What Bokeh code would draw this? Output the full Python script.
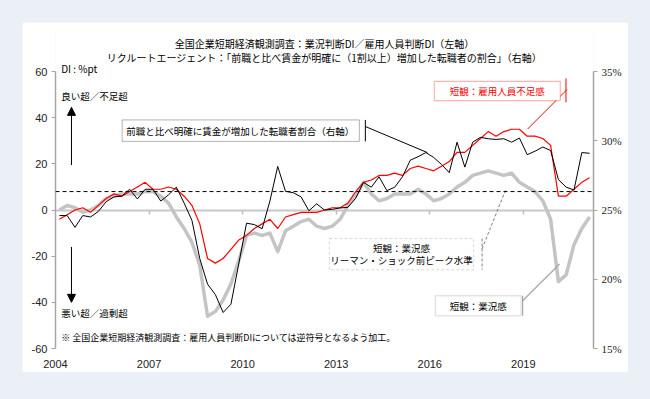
from bokeh.plotting import figure
from bokeh.models import (Range1d, LinearAxis, FixedTicker, Span, Label, Arrow, NormalHead,
                          BoxAnnotation, PrintfTickFormatter, ColumnDataSource)
from bokeh.embed import file_html
from bokeh.resources import INLINE

# ---------------- data (quarterly, first point = 2004 survey) ----------------
year_labels = ["2004", "2007", "2010", "2013", "2016", "2019"]

# Recruit Agent: share of job changers whose wage rose clearly (>=10%), % (right axis)
job_change_pct = [24.6, 24.6, 23.75, 24.6, 24.5, 24.9, 25.6, 25.95, 26.0, 26.5,
                  25.8, 26.5, 26.5, 25.65, 26.1, 26.65, 25.5, 24.25, 21.5, 19.65,
                  18.9, 17.6, 18.2, 21.1, 24.05, 23.95, 23.65, 25.65, 28.15, 26.35,
                  26.25, 25.95, 24.95, 25.45, 25.0, 25.05, 25.15, 25.2, 25.85, 27.0,
                  26.65, 27.4, 26.4, 26.65, 27.4, 28.6, 28.85, 29.15, 28.8, 28.3,
                  27.7, 29.9, 28.1, 29.9, 30.25, 30.15, 30.1, 30.15, 29.9, 30.2,
                  29.0, 29.25, 29.55, 29.3, 27.2, 26.65, 26.45, 29.15, 29.1]

# Tankan employment conditions DI (sign inverted: shortage = positive), %pt
employment_di = [-4, -2, 0, 1, -1, 2, 5, 7, 6, 8,
                 10, 12, 9, 9, 10, 9, 6, 2, -6, -21,
                 -23, -21, -17, -13, -11, -8, -6, -4, -8, -3,
                 -2, -1, -1, -1, 0, 1, 1, 3, 8, 12,
                 13, 15, 15, 16, 15, 18, 19, 18, 17, 19,
                 21, 25, 25, 28, 31, 34, 32, 34, 35, 35,
                 32, 32, 31, 28, 6, 6, 9, 12, 14]

# Tankan business conditions DI, %pt
business_di = [0, 2, 1, -1, 0, 2, 5, 6, 7, 7,
               7, 8, 8, 6, 3, -3, -8, -14, -24, -46,
               -44, -39, -32, -22, -11, -10, -11, -10, -18, -9,
               -7, -5, -4, -7, -8, -7, -4, 2, 6, 12,
               7, 4, 5, 7, 7, 7, 9, 7, 4, 5,
               7, 10, 12, 15, 16, 17, 16, 15, 16, 12,
               10, 8, 4, -4, -31, -28, -15, -8, -3]

lehman_peak_di = 8

left_ticks = [-60, -40, -20, 0, 20, 40, 60]
right_ticks = [15, 20, 25, 30, 35]

x = list(range(len(business_di)))
src = ColumnDataSource(dict(x=x, biz=business_di, emp=employment_di, job=job_change_pct))
year_ticks = [-0.5 + 12 * k for k in range(len(year_labels))]

JP = "Noto Sans CJK JP"

# frame extends above DI=60 to hold the titles; axes are bounded to the data scale
Y_TOP = 77.8
PCT_TOP = 25 + Y_TOP / 6.0

p = figure(width=606, height=350, output_backend="svg", toolbar_location=None,
           x_range=Range1d(-0.5, 68.5), y_range=Range1d(-60, Y_TOP),
           min_border_left=33, min_border_right=35, min_border_top=8, min_border_bottom=24,
           background_fill_color="white", border_fill_color="white",
           outline_line_color=None)
p.margin = (22, 0, 0, 22)
p.grid.visible = False
p.extra_y_ranges = {"pct": Range1d(15, PCT_TOP)}

# bottom axis: year labels only
xa = p.xaxis[0]
xa.ticker = FixedTicker(ticks=year_ticks)
xa.major_label_overrides = {t: lab for t, lab in zip(year_ticks, year_labels)}
xa.axis_line_color = None
xa.major_tick_line_color = None
xa.minor_tick_line_color = None
xa.major_label_standoff = 5
xa.major_label_text_font = "Liberation Sans"
xa.major_label_text_font_size = "11px"
xa.major_label_text_color = "#222222"

# zero line axis with tick marks (no labels)
za = LinearAxis(fixed_location=0, ticker=FixedTicker(ticks=year_ticks[1:]),
                axis_line_color="#c8c8c8", axis_line_width=2,
                major_tick_line_color="#bdbdbd", major_tick_line_width=1.5,
                major_tick_out=4, major_tick_in=0, minor_tick_line_color=None,
                major_label_overrides={t: "" for t in year_ticks[1:]},
                major_label_standoff=0)
za.level = "underlay"
p.add_layout(za, "below")

# left axis
ya = p.yaxis[0]
ya.ticker = FixedTicker(ticks=left_ticks)
ya.bounds = (-60, 60)
ya.formatter = PrintfTickFormatter(format="%d")
ya.axis_line_color = "#a6a6a6"
ya.axis_line_width = 1.5
ya.major_tick_line_color = "#a6a6a6"
ya.major_tick_out = 4
ya.major_tick_in = 0
ya.minor_tick_line_color = None
ya.major_label_text_font = "Liberation Sans"
ya.major_label_text_font_size = "11px"
ya.major_label_text_color = "#222222"
ya.major_label_standoff = 4

# right axis
ra = LinearAxis(y_range_name="pct", ticker=FixedTicker(ticks=right_ticks), bounds=(15, 35),
                formatter=PrintfTickFormatter(format="%d%%"),
                axis_line_color="#a6a6a6", axis_line_width=1.5,
                major_tick_line_color="#a6a6a6", major_tick_out=4, major_tick_in=0,
                minor_tick_line_color=None,
                major_label_text_font="Liberation Serif",
                major_label_text_font_size="11px",
                major_label_text_color="#222222", major_label_standoff=4)
p.add_layout(ra, "right")

# data lines
p.line("x", "biz", source=src, line_color="#c4c4c4", line_width=3.5, line_join="round")
p.line("x", "emp", source=src, line_color="#ff0000", line_width=1.2)
p.line("x", "job", source=src, y_range_name="pct", line_color="#000000", line_width=1)

p.add_layout(Span(location=lehman_peak_di, dimension="width", line_color="#000000",
                  line_dash="4 3", line_width=1))

# --------------- annotations ---------------
def lab(xv, yv, text, size="9.5px", color="#000000", align="left", style="normal"):
    p.add_layout(Label(x=xv, y=yv, text=text, text_font=JP, text_font_size=size,
                       text_color=color, text_align=align, text_baseline="middle",
                       text_font_style=style))

# titles
lab(34, 72.0, "全国企業短期経済観測調査：業況判断DI／雇用人員判断DI（左軸）", size="10px", align="center")
lab(34, 66.2, "リクルートエージェント：「前職と比べ賃金が明確に（1割以上）増加した転職者の割合」（右軸）",
    size="10px", align="center")

lab(0.23, 61.5, "DI : %pt", size="10px")
lab(0.23, 49.3, "良い超／不足超")
lab(0.23, -44.4, "悪い超／過剰超")
lab(0.23, -55.3, "※ 全国企業短期経済観測調査：雇用人員判断DIについては逆符号となるよう加工。", size="9px")

p.add_layout(Arrow(end=NormalHead(size=8, fill_color="black", line_color="black"),
                   x_start=1.55, y_start=19.5, x_end=1.55, y_end=44.5,
                   line_color="black", line_width=1))
p.add_layout(Arrow(end=NormalHead(size=8, fill_color="black", line_color="black"),
                   x_start=1.55, y_start=-16, x_end=1.55, y_end=-40,
                   line_color="black", line_width=1))

# callout: job changers
p.add_layout(BoxAnnotation(left=8.05, right=38.47, bottom=29.76, top=39.05,
                           fill_color="white", fill_alpha=1, line_color="black", line_width=1))
lab(23.2, 34.4, "前職と比べ明確に賃金が増加した転職者割合（右軸）", align="center")
p.segment(x0=[39.24, 39.24], y0=[39.05, 36.2], x1=[39.24, 47.19], y1=[29.76, 24.9],
          line_color="black", line_width=1)

# callout: employment shortage
p.add_layout(BoxAnnotation(left=48.09, right=64.24, bottom=47.42, top=55.79,
                           fill_color="white", fill_alpha=1, line_color="#ff0000", line_width=1.2))
lab(56.17, 51.6, "短観：雇用人員不足感", color="#ff0000", align="center")
p.segment(x0=[64.97, 65.1], y0=[57.0, 52.2], x1=[64.97, 60.05], y1=[46.7, 35.1],
          line_color="#ff0000", line_width=1)

# callout: pre-Lehman peak
p.add_layout(BoxAnnotation(left=34.63, right=53.13, bottom=-25.9, top=-12.32,
                           fill_color="white", fill_alpha=1, line_color="#808080",
                           line_width=1, line_dash="3 2"))
lab(43.86, -16.5, "短観：業況感", align="center")
lab(43.86, -21.6, "リーマン・ショック前ピーク水準", align="center")
p.segment(x0=[54.21, 54.21], y0=[-12.32, -16.8], x1=[54.21, 57.28], y1=[-25.9, 9.1],
          line_color="#808080", line_width=1, line_dash="3 2")

# callout: business conditions
p.add_layout(BoxAnnotation(left=48.22, right=59.21, bottom=-45.86, top=-37.18,
                           fill_color="white", fill_alpha=1, line_color="#a6a6a6", line_width=1.5))
lab(53.73, -41.5, "短観：業況感", align="center")
p.segment(x0=[59.41, 59.41], y0=[-37.18, -39.3], x1=[59.41, 64.15], y1=[-45.86, -23.4],
          line_color="#a6a6a6", line_width=1.2)

html = file_html(p, INLINE, title="chart")
html = html.replace("</head>", "<style>html,body{background:#ebf0f7;}</style></head>", 1)
open("out.html", "w").write(html)
